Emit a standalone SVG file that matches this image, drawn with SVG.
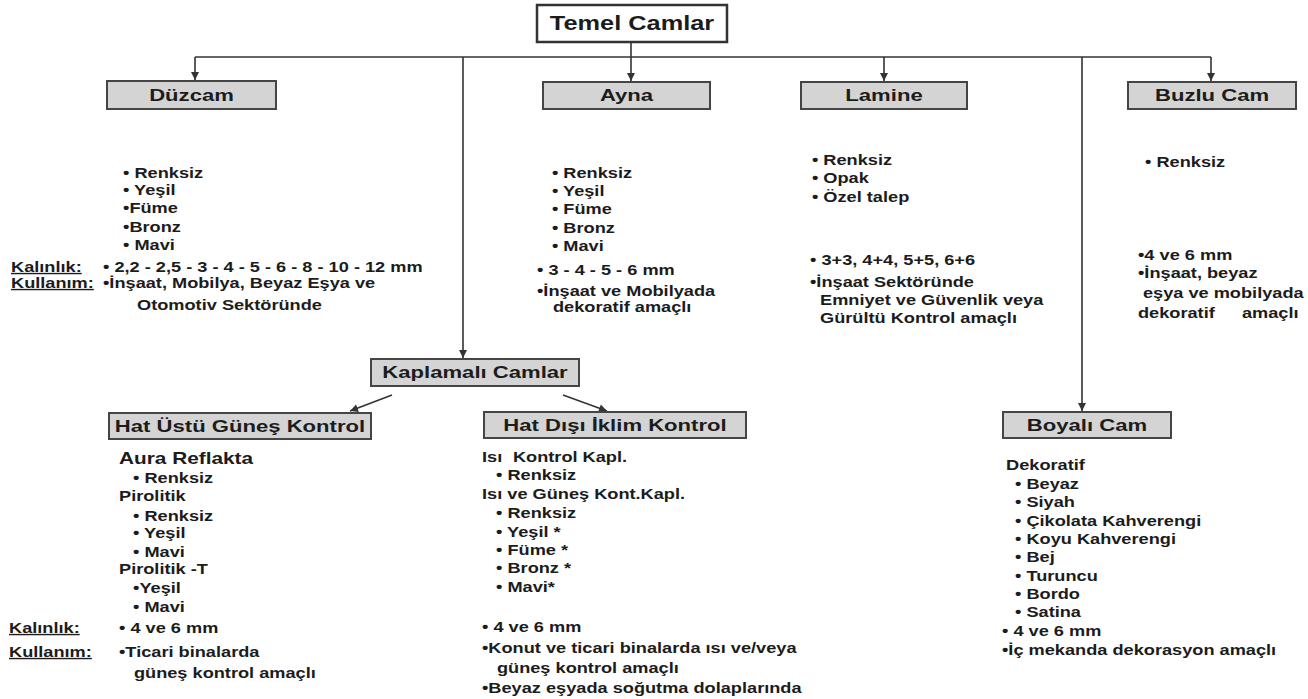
<svg xmlns="http://www.w3.org/2000/svg" width="1308" height="699" viewBox="0 0 1308 699">
<style>
text{font-family:"Liberation Sans",Arial,sans-serif;font-weight:bold;fill:#1c1c1c}
.b{font-size:14px}
.lbl{font-size:17px;text-anchor:middle}
.u{text-decoration:underline}
.box{fill:#d4d4d4;stroke:#454545;stroke-width:2}
.root{fill:#fff;stroke:#333;stroke-width:2.5}
.c{fill:none;stroke:#333;stroke-width:1.6}
</style>
<defs>
<marker id="ah" markerWidth="10" markerHeight="10" refX="9" refY="5" orient="auto" markerUnits="userSpaceOnUse">
<path d="M1,1 L9,5 L1,9 Z" fill="#333"/>
</marker>
</defs>
<rect width="1308" height="699" fill="#fff"/>

<g id="connectors">
<path class="c" d="M195,57 H1211"/>
<path class="c" d="M631,42 V81" marker-end="url(#ah)"/>
<path class="c" d="M195,57 V80" marker-end="url(#ah)"/>
<path class="c" d="M884,57 V81" marker-end="url(#ah)"/>
<path class="c" d="M1211,57 V81" marker-end="url(#ah)"/>
<path class="c" d="M463,57 V358" marker-end="url(#ah)"/>
<path class="c" d="M1082,57 V411" marker-end="url(#ah)"/>
<path class="c" d="M392,395 L350,411" marker-end="url(#ah)"/>
<path class="c" d="M563,395 L607,411" marker-end="url(#ah)"/>
</g>

<g id="temel">
<rect class="root" x="537" y="5" width="190" height="37"/>
<text transform="translate(632 30) scale(1.3 1)" style="font-size:19.5px;text-anchor:middle">Temel Camlar</text>
</g>

<g id="duzcam">
<rect class="box" x="107" y="81" width="169" height="28"/>
<text class="lbl" transform="translate(191.5 101) scale(1.3 1)">Düzcam</text>
</g>
<g id="ayna">
<rect class="box" x="543" y="82" width="167" height="27"/>
<text class="lbl" transform="translate(626.5 101) scale(1.3 1)">Ayna</text>
</g>
<g id="lamine">
<rect class="box" x="801" y="82" width="166" height="27"/>
<text class="lbl" transform="translate(884 101) scale(1.3 1)">Lamine</text>
</g>
<g id="buzlu">
<rect class="box" x="1128" y="82" width="168" height="27"/>
<text class="lbl" transform="translate(1212 101) scale(1.3 1)">Buzlu Cam</text>
</g>
<g id="kaplamali">
<rect class="box" x="371" y="359" width="208" height="27"/>
<text class="lbl" transform="translate(475 378) scale(1.3 1)">Kaplamalı Camlar</text>
</g>
<g id="hatustu">
<rect class="box" x="109" y="413" width="262" height="26"/>
<text class="lbl" transform="translate(240 432) scale(1.3 1)">Hat Üstü Güneş Kontrol</text>
</g>
<g id="hatdisi">
<rect class="box" x="484" y="412" width="262" height="26"/>
<text class="lbl" transform="translate(615 431) scale(1.3 1)">Hat Dışı İklim Kontrol</text>
</g>
<g id="boyali">
<rect class="box" x="1003" y="412" width="168" height="26"/>
<text class="lbl" transform="translate(1087 431) scale(1.3 1)">Boyalı Cam</text>
</g>

<g id="labels-top" transform="translate(11 0) scale(1.3 1)">
<text class="b u" x="0" y="272">Kalınlık:</text>
<text class="b u" x="0" y="288">Kullanım:</text>
</g>
<g id="labels-bottom" transform="translate(9 0) scale(1.3 1)">
<text class="b u" x="0" y="633">Kalınlık:</text>
<text class="b u" x="0" y="657">Kullanım:</text>
</g>

<g id="duzcam-details" transform="translate(103 0) scale(1.3 1)">
<text class="b" x="15.4" y="178">• Renksiz</text>
<text class="b" x="15.4" y="195">• Yeşil</text>
<text class="b" x="15.4" y="213">•Füme</text>
<text class="b" x="15.4" y="232">•Bronz</text>
<text class="b" x="15.4" y="250">• Mavi</text>
<text class="b" x="0" y="272">• 2,2 - 2,5 - 3 - 4 - 5 - 6 - 8 - 10 - 12 mm</text>
<text class="b" x="0" y="288">•İnşaat, Mobilya, Beyaz Eşya ve</text>
<text class="b" x="26.2" y="310">Otomotiv Sektöründe</text>
</g>

<g id="ayna-details" transform="translate(537 0) scale(1.3 1)">
<text class="b" x="11.5" y="178">• Renksiz</text>
<text class="b" x="11.5" y="196">• Yeşil</text>
<text class="b" x="11.5" y="214">• Füme</text>
<text class="b" x="11.5" y="233">• Bronz</text>
<text class="b" x="11.5" y="251">• Mavi</text>
<text class="b" x="0" y="275">• 3 - 4 - 5 - 6 mm</text>
<text class="b" x="0" y="296">•İnşaat ve Mobilyada</text>
<text class="b" x="12.3" y="312">dekoratif amaçlı</text>
</g>

<g id="lamine-details" transform="translate(810 0) scale(1.3 1)">
<text class="b" x="1.5" y="165">• Renksiz</text>
<text class="b" x="1.5" y="183">• Opak</text>
<text class="b" x="1.5" y="202">• Özel talep</text>
<text class="b" x="0" y="265">• 3+3, 4+4, 5+5, 6+6</text>
<text class="b" x="0" y="287">•İnşaat Sektöründe</text>
<text class="b" x="7.7" y="305">Emniyet ve Güvenlik veya</text>
<text class="b" x="7.7" y="323">Gürültü Kontrol amaçlı</text>
</g>

<g id="buzlu-details" transform="translate(1138 0) scale(1.3 1)">
<text class="b" x="5.4" y="167">• Renksiz</text>
<text class="b" x="0" y="260">•4 ve 6 mm</text>
<text class="b" x="0" y="278">•İnşaat, beyaz</text>
<text class="b" x="3.8" y="298">eşya ve mobilyada</text>
<text class="b" x="0" y="318">dekoratif<tspan x="80">amaçlı</tspan></text>
</g>

<g id="hatustu-details" transform="translate(119 0) scale(1.3 1)">
<text x="0" y="464" style="font-size:16px">Aura Reflakta</text>
<text class="b" x="10.8" y="483">• Renksiz</text>
<text class="b" x="0" y="501">Pirolitik</text>
<text class="b" x="10.8" y="521">• Renksiz</text>
<text class="b" x="10.8" y="538">• Yeşil</text>
<text class="b" x="10.8" y="557">• Mavi</text>
<text class="b" x="0" y="574">Pirolitik -T</text>
<text class="b" x="10.8" y="593">•Yeşil</text>
<text class="b" x="10.8" y="612">• Mavi</text>
<text class="b" x="0" y="633">• 4 ve 6 mm</text>
<text class="b" x="0" y="657">•Ticari binalarda</text>
<text class="b" x="11.5" y="678">güneş kontrol amaçlı</text>
</g>

<g id="hatdisi-details" transform="translate(482 0) scale(1.3 1)">
<text class="b" x="0" y="462">Isı<tspan x="23.8">Kontrol Kapl.</tspan></text>
<text class="b" x="10.8" y="480">• Renksiz</text>
<text class="b" x="0" y="499">Isı ve Güneş Kont.Kapl.</text>
<text class="b" x="10.8" y="518">• Renksiz</text>
<text class="b" x="10.8" y="537">• Yeşil *</text>
<text class="b" x="10.8" y="555">• Füme *</text>
<text class="b" x="10.8" y="573">• Bronz *</text>
<text class="b" x="10.8" y="592">• Mavi*</text>
<text class="b" x="0" y="632">• 4 ve 6 mm</text>
<text class="b" x="0" y="653">•Konut ve ticari binalarda ısı ve/veya</text>
<text class="b" x="11.5" y="673">güneş kontrol amaçlı</text>
<text class="b" x="0" y="693">•Beyaz eşyada soğutma dolaplarında</text>
</g>

<g id="boyali-details" transform="translate(1002 0) scale(1.3 1)">
<text class="b" x="3.1" y="470">Dekoratif</text>
<text class="b" x="10" y="489">• Beyaz</text>
<text class="b" x="10" y="507">• Siyah</text>
<text class="b" x="10" y="526">• Çikolata Kahverengi</text>
<text class="b" x="10" y="544">• Koyu Kahverengi</text>
<text class="b" x="10" y="562">• Bej</text>
<text class="b" x="10" y="581">• Turuncu</text>
<text class="b" x="10" y="599">• Bordo</text>
<text class="b" x="10" y="617">• Satina</text>
<text class="b" x="0" y="636">• 4 ve 6 mm</text>
<text class="b" x="0" y="655">•İç mekanda dekorasyon amaçlı</text>
</g>
</svg>
